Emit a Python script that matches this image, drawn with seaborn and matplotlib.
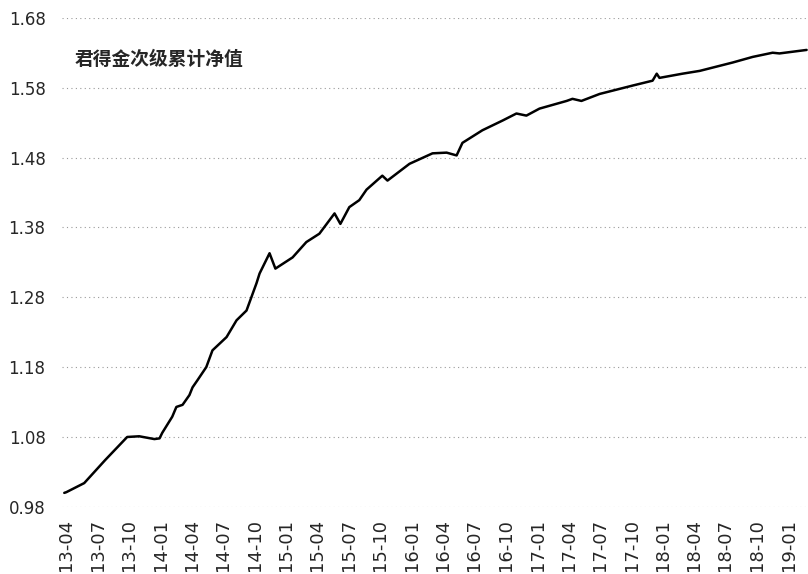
import matplotlib.dates as mdates
import matplotlib.pyplot as plt
import pandas as pd
import seaborn as sns

sns.set_style("white")
plt.rcParams["font.family"] = ["Noto Sans CJK SC", "DejaVu Sans"]

title = "君得金次级累计净值"

# readings of the cumulative NAV
dates = [
    "2013-03-26", "2013-04-01", "2013-05-23", "2013-07-23", "2013-09-25", "2013-10-30",
    "2013-12-13", "2013-12-28", "2014-01-05", "2014-02-03", "2014-02-15", "2014-03-05",
    "2014-03-25", "2014-04-03", "2014-04-17", "2014-05-13", "2014-05-31", "2014-07-11",
    "2014-08-09", "2014-09-07", "2014-10-06", "2014-10-15", "2014-11-13", "2014-11-30",
    "2015-01-19", "2015-02-28", "2015-04-07", "2015-05-21", "2015-06-07", "2015-07-03",
    "2015-08-01", "2015-08-22", "2015-10-07", "2015-10-22", "2015-12-25", "2016-03-01",
    "2016-04-11", "2016-05-10", "2016-05-27", "2016-07-24", "2016-09-21", "2016-10-31",
    "2016-11-29", "2017-01-06", "2017-03-26", "2017-04-12", "2017-05-08", "2017-06-30",
    "2017-10-04", "2017-12-01", "2017-12-13", "2017-12-21", "2018-02-26", "2018-04-17",
    "2018-07-22", "2018-09-18", "2018-11-15", "2018-12-05", "2019-02-22",
]
nav = [
    1.000, 1.001, 1.014, 1.047, 1.080, 1.081,
    1.077, 1.078, 1.086, 1.109, 1.123, 1.126,
    1.140, 1.151, 1.161, 1.180, 1.204, 1.223,
    1.247, 1.261, 1.300, 1.314, 1.343, 1.321,
    1.337, 1.359, 1.371, 1.400, 1.385, 1.409,
    1.419, 1.434, 1.454, 1.447, 1.471, 1.486,
    1.487, 1.483, 1.501, 1.519, 1.533, 1.543,
    1.540, 1.550, 1.561, 1.564, 1.561, 1.571,
    1.583, 1.590, 1.600, 1.594, 1.600, 1.604,
    1.616, 1.624, 1.630, 1.629, 1.634,
]

y_ticks = [0.98, 1.08, 1.18, 1.28, 1.38, 1.48, 1.58, 1.68]

df = pd.DataFrame({"date": pd.to_datetime(dates), "nav": nav})

fig = plt.figure(figsize=(8.08, 5.74), dpi=100)
ax = fig.add_axes([0.077, 0.117, 0.923, 0.852])

sns.lineplot(data=df, x="date", y="nav", color="black", linewidth=1.8, ax=ax)

ax.set_ylim(0.98, 1.68)
ax.set_yticks(y_ticks)
ax.set_yticklabels([f"{v:.2f}" for v in y_ticks], fontfamily="DejaVu Sans", fontsize=12)
ax.set_xlim(pd.Timestamp("2013-03-20"), pd.Timestamp("2019-02-26"))
ax.xaxis.set_major_locator(mdates.MonthLocator(bymonth=[1, 4, 7, 10]))
ax.xaxis.set_major_formatter(mdates.DateFormatter("%y-%m"))
plt.setp(ax.get_xticklabels(), rotation=90, fontfamily="DejaVu Sans", fontsize=13)
ax.tick_params(axis="y", length=0, pad=12)
ax.tick_params(axis="x", length=0, pad=9)

ax.grid(axis="y", color="#9a9a9a", linestyle=(0, (1, 3)), linewidth=0.8)
ax.grid(axis="x", visible=False)
for s in ax.spines.values():
    s.set_visible(False)
ax.set_xlabel("")
ax.set_ylabel("")

ax.text(0.017, 0.914, title, transform=ax.transAxes, fontsize=13.5,
        fontweight="bold", va="center", ha="left")

plt.savefig("out.png", dpi=100)
